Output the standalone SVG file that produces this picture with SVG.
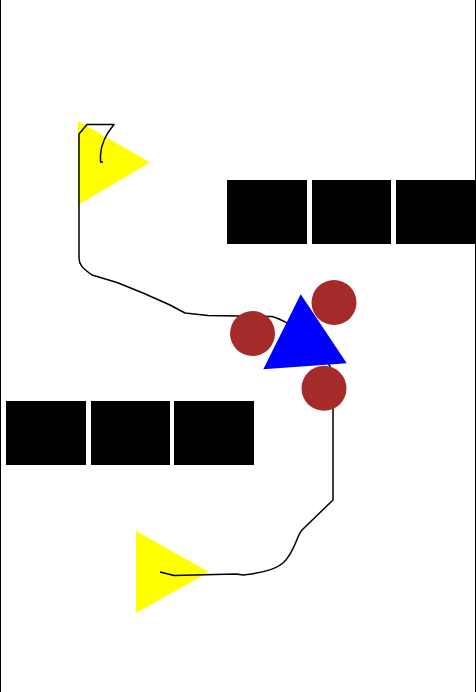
<svg xmlns="http://www.w3.org/2000/svg" width="476" height="692" viewBox="0 0 476 692">
<style>
.blk{fill:#000}
.flag{fill:#ffff00}
.ball{fill:#a52a2a}
.wire{fill:none;stroke:#000;stroke-width:1.5;stroke-linejoin:round}
</style>
<rect width="476" height="692" fill="#fff"/>
<line x1="0.5" y1="0" x2="0.5" y2="692" stroke="#000" stroke-width="1"/>
<line x1="475.5" y1="0" x2="475.5" y2="692" stroke="#000" stroke-width="1"/>
<g id="wall-top">
<rect class="blk" x="227" y="180" width="80" height="64"/>
<rect class="blk" x="312" y="180" width="79" height="64"/>
<rect class="blk" x="396" y="180" width="80" height="64"/>
</g>
<g id="wall-bottom">
<rect class="blk" x="6" y="401" width="80" height="64"/>
<rect class="blk" x="91" y="401" width="79" height="64"/>
<rect class="blk" x="174" y="401" width="80" height="64"/>
</g>
<g id="flag-top"><polygon class="flag" points="78,121 150,162.5 78,205"/></g>
<g id="flag-bottom"><polygon class="flag" points="136,531 209,572 136,613"/></g>
<g id="connectors">
<path class="wire" d="M103 162 L100.5 162 L100.5 155 C101 143 106 134 114 124.5 L87 124.5 L79 134 L79 258 C79 264 82 268 92 275 L117 282.5 L143 293 L170 305 L185 313 L208 315.5 L272 316.5 C278 318 286 321 300 332 L330 366 L333 410 L333 500 L302 530 C296 537 295 552 283 563 C275 570 262 573 243 575 L236 574 L174 575.5 L160 572"/>
</g>
<g id="ball-1"><circle class="ball" cx="252.5" cy="333.5" r="22.5"/></g>
<g id="ball-2"><circle class="ball" cx="334" cy="302.5" r="22.5"/></g>
<g id="ball-3"><circle class="ball" cx="324" cy="388.3" r="22.5"/></g>
<g id="player"><polygon fill="#0000ff" points="300.7,294.3 346.7,363.3 263.3,369.3"/></g>
</svg>
